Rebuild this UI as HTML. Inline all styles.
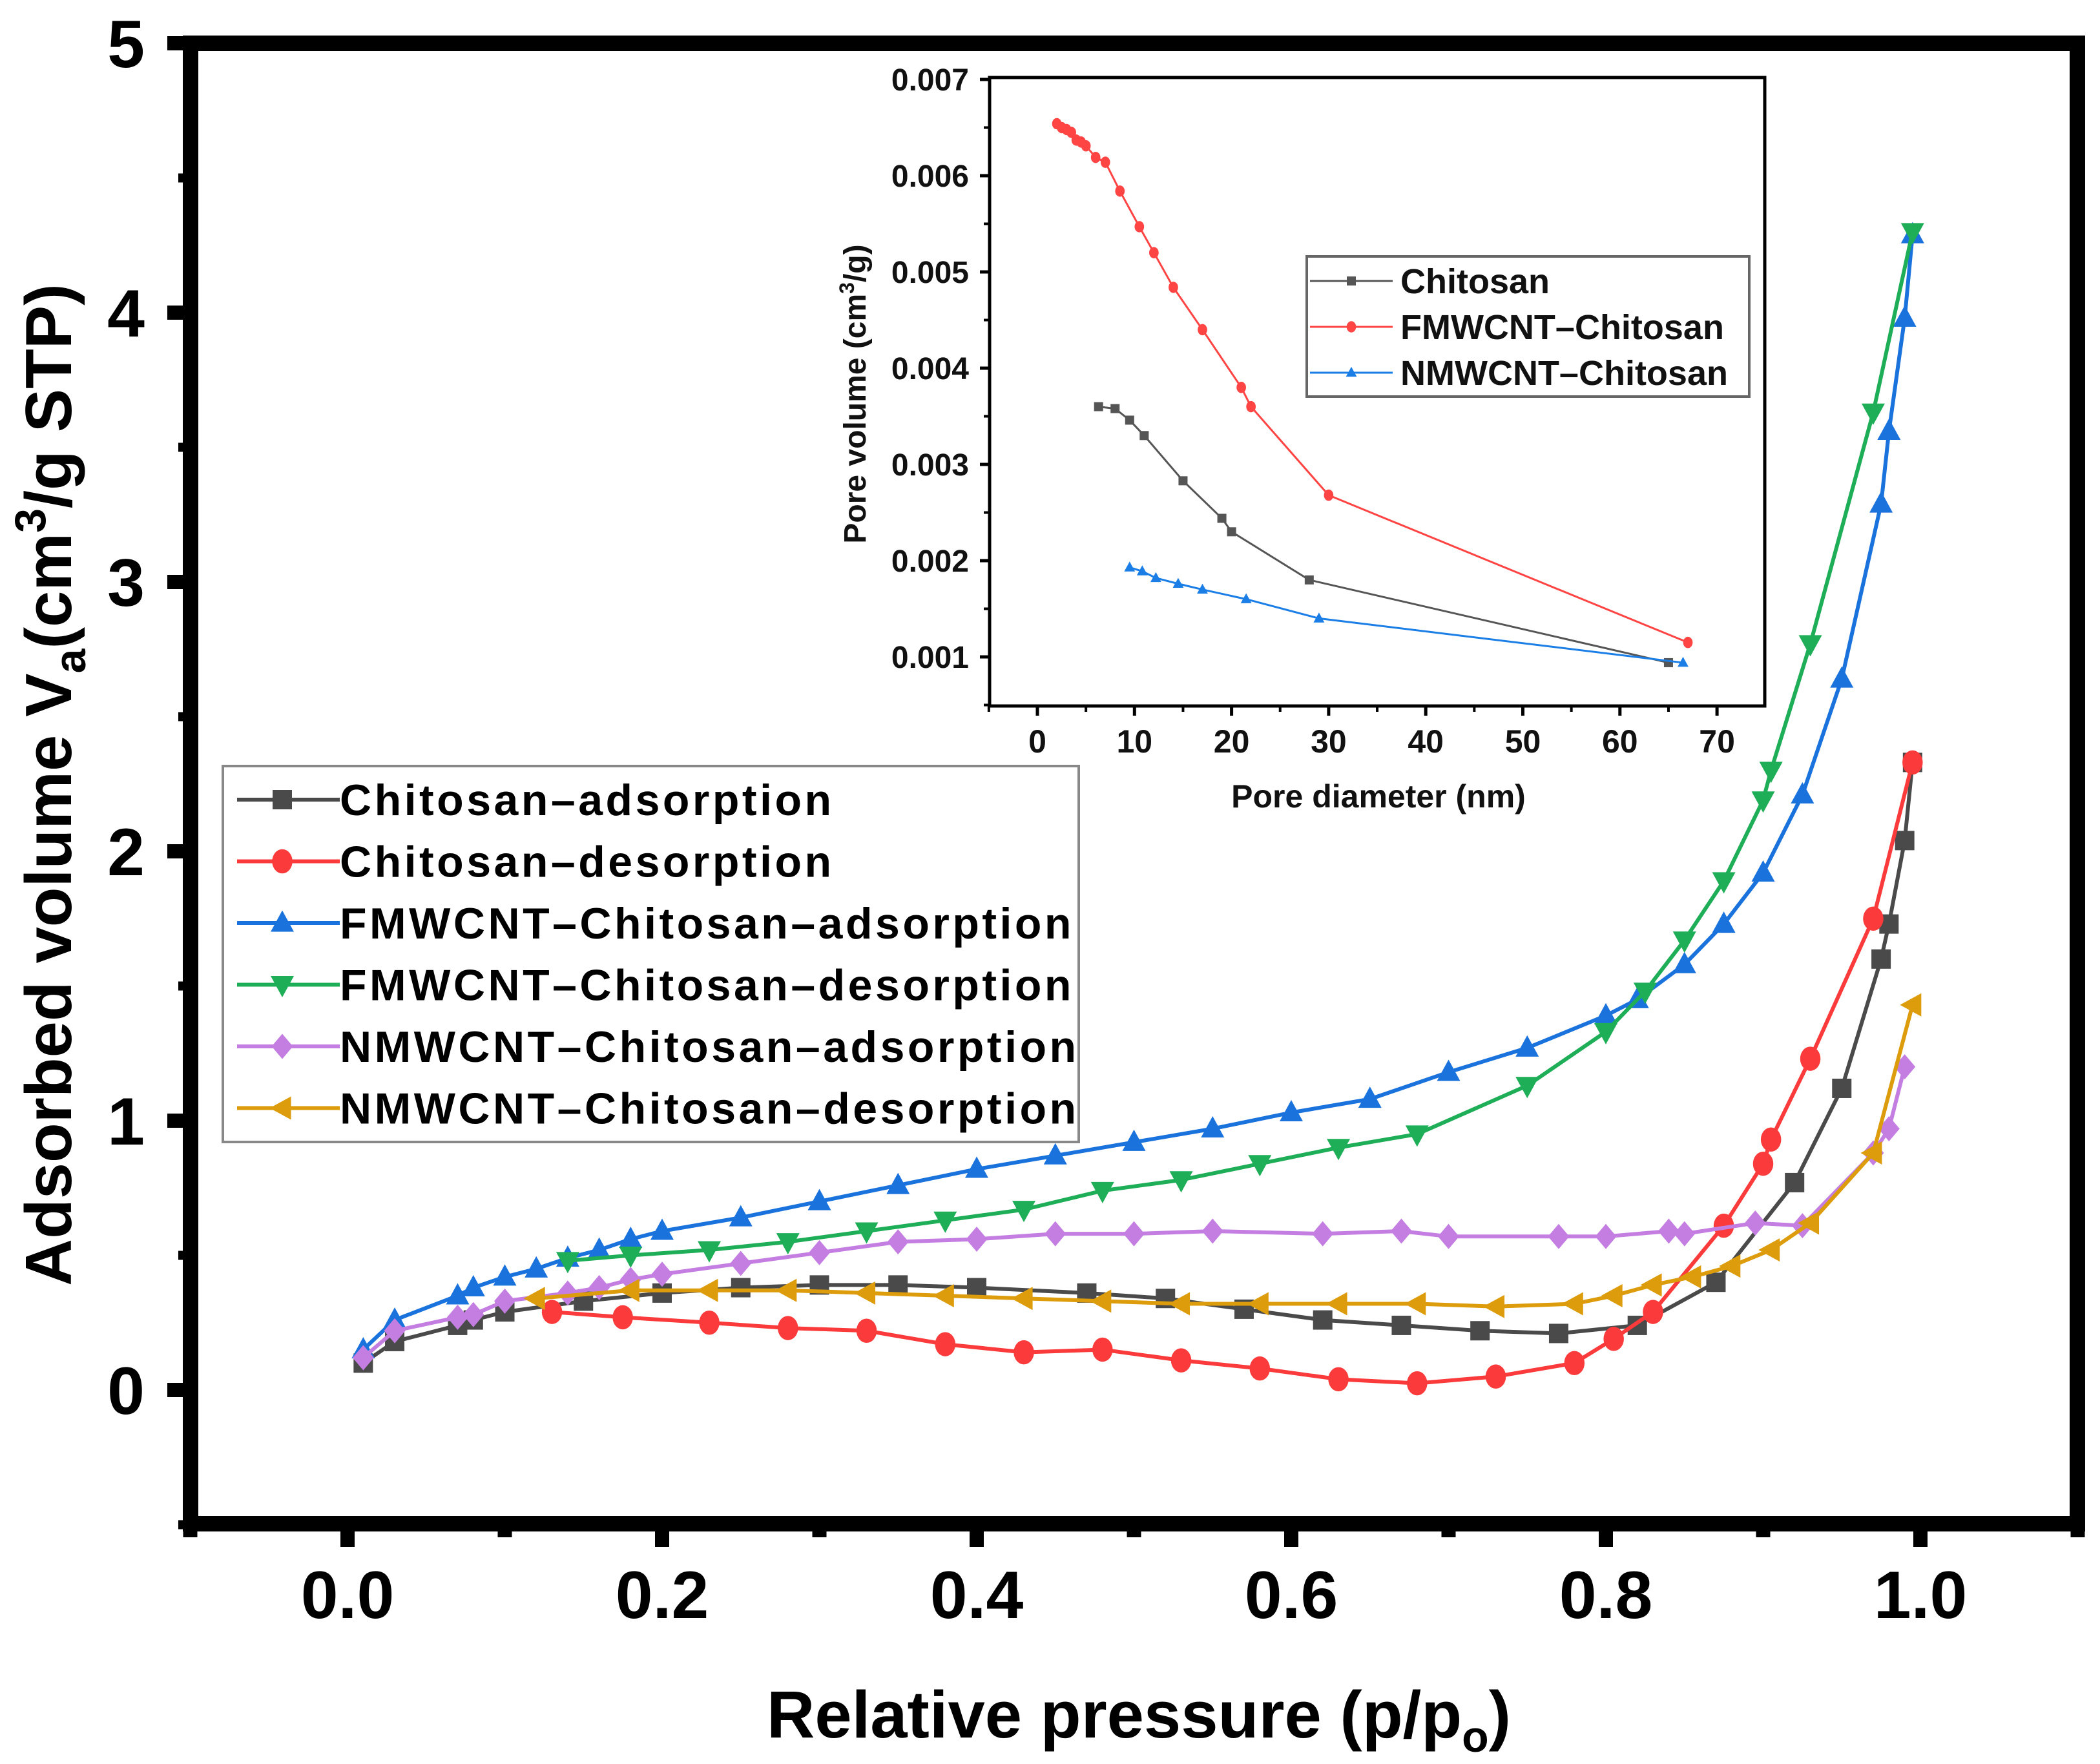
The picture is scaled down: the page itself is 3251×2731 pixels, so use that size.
<!DOCTYPE html>
<html><head><meta charset="utf-8"><style>
html,body{margin:0;padding:0;background:#fff;}
svg{display:block;font-family:"Liberation Sans",Arial,sans-serif;font-weight:bold;}
</style></head><body>
<svg id="chart" width="3251" height="2731" viewBox="0 0 3251 2731" xmlns="http://www.w3.org/2000/svg">
<rect x="0" y="0" width="3251" height="2731" fill="#fff"/>
<g id="main-series"></g>
<g id="main-axes"></g>
<g id="inset"></g>
<g id="legend"></g>
<text x="1763" y="2690" font-size="103" text-anchor="middle">Relative pressure (p/p<tspan font-size="68" dy="22">o</tspan><tspan dy="-22">)</tspan></text>
<text transform="translate(110,1215) rotate(-90)" font-size="101" text-anchor="middle">Adsorbed volume V<tspan font-size="68" dy="22">a</tspan><tspan dy="-22">(cm</tspan><tspan font-size="68" dy="-40">3</tspan><tspan dy="40">/g STP)</tspan></text>
</svg>
<script>
// ---------- main chart data ----------
const chitAdsX = [0.01,0.03,0.07,0.08,0.10,0.15,0.20,0.25,0.30,0.35,0.40,0.47,0.52,0.57,0.62,0.67,0.72,0.77,0.82,0.87,0.92,0.95,0.975,0.98,0.99,0.995];
const chitAdsY = [0.10,0.18,0.24,0.26,0.29,0.33,0.36,0.38,0.39,0.39,0.38,0.36,0.34,0.30,0.26,0.24,0.22,0.21,0.24,0.40,0.77,1.12,1.60,1.73,2.04,2.33];
const chitDesX = [0.13,0.175,0.23,0.28,0.33,0.38,0.43,0.48,0.53,0.58,0.63,0.68,0.73,0.78,0.805,0.83,0.875,0.90,0.905,0.93,0.97,0.995];
const chitDesY = [0.29,0.27,0.25,0.23,0.22,0.17,0.14,0.15,0.11,0.08,0.04,0.025,0.05,0.10,0.19,0.29,0.61,0.84,0.93,1.23,1.75,2.33];
const fAdsX = [0.01,0.03,0.07,0.08,0.10,0.12,0.14,0.16,0.18,0.20,0.25,0.30,0.35,0.40,0.45,0.50,0.55,0.60,0.65,0.70,0.75,0.80,0.82,0.85,0.875,0.90,0.925,0.95,0.975,0.98,0.99,0.995];
const fAdsY = [0.15,0.26,0.35,0.38,0.42,0.45,0.49,0.52,0.56,0.59,0.64,0.70,0.76,0.82,0.87,0.92,0.97,1.03,1.08,1.18,1.27,1.39,1.45,1.58,1.73,1.92,2.21,2.64,3.29,3.56,3.98,4.29];
const fDesX = [0.14,0.18,0.23,0.28,0.33,0.38,0.43,0.48,0.53,0.58,0.63,0.68,0.75,0.80,0.825,0.85,0.875,0.90,0.905,0.93,0.97,0.995];
const fDesY = [0.48,0.50,0.52,0.55,0.59,0.63,0.67,0.74,0.78,0.84,0.90,0.95,1.13,1.33,1.48,1.67,1.89,2.19,2.30,2.77,3.63,4.30];
const nAdsX = [0.01,0.03,0.07,0.08,0.10,0.14,0.16,0.18,0.20,0.25,0.30,0.35,0.40,0.45,0.50,0.55,0.62,0.67,0.70,0.77,0.80,0.84,0.85,0.895,0.925,0.97,0.98,0.99];
const nAdsY = [0.12,0.22,0.27,0.28,0.33,0.36,0.38,0.41,0.43,0.47,0.51,0.55,0.56,0.58,0.58,0.59,0.58,0.59,0.57,0.57,0.57,0.59,0.58,0.62,0.61,0.88,0.97,1.20];
const nDesX = [0.12,0.18,0.23,0.28,0.33,0.38,0.43,0.48,0.53,0.58,0.63,0.68,0.73,0.78,0.805,0.83,0.855,0.88,0.905,0.93,0.97,0.995];
const nDesY = [0.34,0.37,0.37,0.37,0.36,0.35,0.34,0.33,0.32,0.32,0.32,0.32,0.31,0.32,0.35,0.39,0.42,0.46,0.52,0.62,0.88,1.43];
const xTicks = [0.0,0.2,0.4,0.6,0.8,1.0];
const xTickLabels = ["0.0","0.2","0.4","0.6","0.8","1.0"];
const yTicks = [0,1,2,3,4,5];
const yTickLabels = ["0","1","2","3","4","5"];
const legendLabels = ["Chitosan\u2013adsorption","Chitosan\u2013desorption","FMWCNT\u2013Chitosan\u2013adsorption","FMWCNT\u2013Chitosan\u2013desorption","NMWCNT\u2013Chitosan\u2013adsorption","NMWCNT\u2013Chitosan\u2013desorption"];

// ---------- inset data ----------
const insChitX = [6.3,8,9.5,11,15,19,20,28,65];
const insChitY = [0.0036,0.00358,0.00346,0.0033,0.00283,0.00244,0.0023,0.0018,0.00094];
const insFX = [2,2.5,3,3.5,4,4.5,5,6,7,8.5,10.5,12,14,17,21,22,30,67];
const insFY = [0.00654,0.0065,0.00648,0.00645,0.00637,0.00635,0.00631,0.00619,0.00614,0.00584,0.00547,0.0052,0.00484,0.0044,0.0038,0.0036,0.00268,0.00115];
const insNX = [9.5,10.8,12.2,14.5,17,21.5,29,66.5];
const insNY = [0.00193,0.00189,0.00182,0.00176,0.0017,0.0016,0.0014,0.00094];
const insXTicks = [0,10,20,30,40,50,60,70];
const insYTicks = [0.001,0.002,0.003,0.004,0.005,0.006,0.007];
const insLegendLabels = ["Chitosan","FMWCNT\u2013Chitosan","NMWCNT\u2013Chitosan"];

const NS="http://www.w3.org/2000/svg";
function mk(tag,attrs,parent){const e=document.createElementNS(NS,tag);for(const k in attrs)e.setAttribute(k,attrs[k]);parent.appendChild(e);return e;}

const X=v=>538+v*2435;
const Y=v=>2152-v*417;

function marker(g,type,cx,cy,s,color){
  let e;
  if(type==='square') e=mk('rect',{x:cx-s,y:cy-s,width:2*s,height:2*s,fill:color},g);
  else if(type==='circle') e=mk('ellipse',{cx:cx,cy:cy,rx:s*1.05,ry:s*1.25,fill:color},g);
  else if(type==='up') e=mk('polygon',{points:`${cx},${cy-s*1.3} ${cx+s*1.2},${cy+s*0.9} ${cx-s*1.2},${cy+s*0.9}`,fill:color},g);
  else if(type==='down') e=mk('polygon',{points:`${cx},${cy+s*1.3} ${cx+s*1.2},${cy-s*0.9} ${cx-s*1.2},${cy-s*0.9}`,fill:color},g);
  else if(type==='diamond') e=mk('polygon',{points:`${cx},${cy-s*1.3} ${cx+s*1.1},${cy} ${cx},${cy+s*1.3} ${cx-s*1.1},${cy}`,fill:color},g);
  else if(type==='left') e=mk('polygon',{points:`${cx-s*1.3},${cy} ${cx+s*0.9},${cy-s*1.2} ${cx+s*0.9},${cy+s*1.2}`,fill:color},g);
  return e;
}

const series=[
  {name:'chitosan-adsorption',x:chitAdsX,y:chitAdsY,c:'#4a4a4a',m:'square'},
  {name:'chitosan-desorption',x:chitDesX,y:chitDesY,c:'#fb3b3b',m:'circle'},
  {name:'fmwcnt-chitosan-adsorption',x:fAdsX,y:fAdsY,c:'#1a72dc',m:'up'},
  {name:'fmwcnt-chitosan-desorption',x:fDesX,y:fDesY,c:'#1fae58',m:'down'},
  {name:'nmwcnt-chitosan-adsorption',x:nAdsX,y:nAdsY,c:'#c47ee2',m:'diamond'},
  {name:'nmwcnt-chitosan-desorption',x:nDesX,y:nDesY,c:'#dc9c0c',m:'left'}
];
const ms=document.getElementById('main-series');
series.forEach(s=>{
  const g=mk('g',{},ms);
  
  
  const pl=mk('polyline',{points:s.x.map((v,i)=>X(v)+','+Y(s.y[i])).join(' '),fill:'none',stroke:s.c,'stroke-width':6,'stroke-linejoin':'round'},g);
  
  
  s.x.forEach((v,i)=>{
    const e=marker(g,s.m,X(v),Y(s.y[i]),15,s.c);
    
    
  });
});

const ax=document.getElementById('main-axes');
const frame=mk('rect',{x:295,y:67,width:2921,height:2292,fill:'none',stroke:'#000','stroke-width':24},ax);


xTicks.forEach((v,i)=>{
  const t=mk('line',{x1:X(v),x2:X(v),y1:2359,y2:2395,stroke:'#000','stroke-width':22},ax);
  
  
  const m=mk('line',{x1:X(v+0.1),x2:X(v+0.1),y1:2359,y2:2380,stroke:'#000','stroke-width':22},ax);
  
  
  const l=mk('text',{x:X(v),y:2505,'font-size':104,'text-anchor':'middle'},ax);
  l.textContent=xTickLabels[i];
  
  
});
const mm=mk('line',{x1:X(-0.1),x2:X(-0.1),y1:2359,y2:2380,stroke:'#000','stroke-width':22},ax);


yTicks.forEach((v,i)=>{
  const t=mk('line',{x1:259,x2:295,y1:Y(v),y2:Y(v),stroke:'#000','stroke-width':22},ax);
  
  
  const m=mk('line',{x1:276,x2:295,y1:Y(v-0.5),y2:Y(v-0.5),stroke:'#000','stroke-width':14},ax);
  
  
  const l=mk('text',{x:224,y:Y(v)+37,'font-size':104,'text-anchor':'end'},ax);
  l.textContent=yTickLabels[i];
  
  
});

const lg=document.getElementById('legend');
const lbox=mk('rect',{x:345,y:1186,width:1325,height:582,fill:'#fff',stroke:'#888','stroke-width':4},lg);


series.forEach((s,i)=>{
  const cy=1238+i*95.5;
  const g=mk('g',{},lg);
  
  
  mk('line',{x1:367,x2:526,y1:cy,y2:cy,stroke:s.c,'stroke-width':6},g);
  marker(g,s.m,437,cy,15,s.c);
  const t=mk('text',{x:526,y:cy+24,'font-size':68,'letter-spacing':4.5},g);
  t.textContent=legendLabels[i];
});

const ins=document.getElementById('inset');
const IX=v=>1606+v*15.03;
const IY=v=>1017-(v-0.001)*149000;
const iframe=mk('rect',{x:1532,y:120,width:1200,height:973,fill:'#fff',stroke:'#000','stroke-width':5},ins);


insXTicks.forEach(v=>{
  const t=mk('line',{x1:IX(v),x2:IX(v),y1:1093,y2:1108,stroke:'#000','stroke-width':5},ins);
  
  
  const m=mk('line',{x1:IX(v-5),x2:IX(v-5),y1:1093,y2:1102,stroke:'#000','stroke-width':4},ins);
  
  
  const l=mk('text',{x:IX(v),y:1165,'font-size':50,'text-anchor':'middle',fill:'#111'},ins);
  l.textContent=String(v);
  
  
});
insYTicks.forEach(v=>{
  const t=mk('line',{x1:1517,x2:1532,y1:IY(v),y2:IY(v),stroke:'#000','stroke-width':5},ins);
  
  
  const m=mk('line',{x1:1523,x2:1532,y1:IY(v-0.0005),y2:IY(v-0.0005),stroke:'#000','stroke-width':4},ins);
  
  
  const l=mk('text',{x:1500,y:IY(v)+17,'font-size':48,'text-anchor':'end',fill:'#111'},ins);
  l.textContent=v.toFixed(3);
  
  
});
const ixt=mk('text',{x:2134,y:1250,'font-size':50,'text-anchor':'middle',fill:'#111'},ins);
ixt.textContent='Pore diameter (nm)';


const iyt=mk('text',{transform:'translate(1340,610) rotate(-90)','font-size':48,'text-anchor':'middle',fill:'#111'},ins);
iyt.innerHTML='Pore volume (cm<tspan font-size="32" dy="-18">3</tspan><tspan dy="18">/g)</tspan>';


const iseries=[
  {name:'inset-chitosan',x:insChitX,y:insChitY,c:'#555',m:'square'},
  {name:'inset-fmwcnt-chitosan',x:insFX,y:insFY,c:'#f44',m:'circle'},
  {name:'inset-nmwcnt-chitosan',x:insNX,y:insNY,c:'#1a7ee6',m:'up'}
];
iseries.forEach(s=>{
  const g=mk('g',{},ins);
  
  
  mk('polyline',{points:s.x.map((v,i)=>IX(v)+','+IY(s.y[i])).join(' '),fill:'none',stroke:s.c,'stroke-width':3},g);
  s.x.forEach((v,i)=>{
    const e=marker(g,s.m,IX(v),IY(s.y[i]),7,s.c);
    
    
  });
});
const ilb=mk('rect',{x:2023,y:397,width:685,height:217,fill:'#fff',stroke:'#666','stroke-width':4},ins);


iseries.forEach((s,i)=>{
  const cy=435+i*71;
  const g=mk('g',{},ins);
  
  
  mk('line',{x1:2028,x2:2156,y1:cy,y2:cy,stroke:s.c,'stroke-width':3},g);
  marker(g,s.m,2092,cy,7,s.c);
  const t=mk('text',{x:2168,y:cy+19,'font-size':54,fill:'#111'},g);
  t.textContent=insLegendLabels[i];
});
</script>
</body></html>
